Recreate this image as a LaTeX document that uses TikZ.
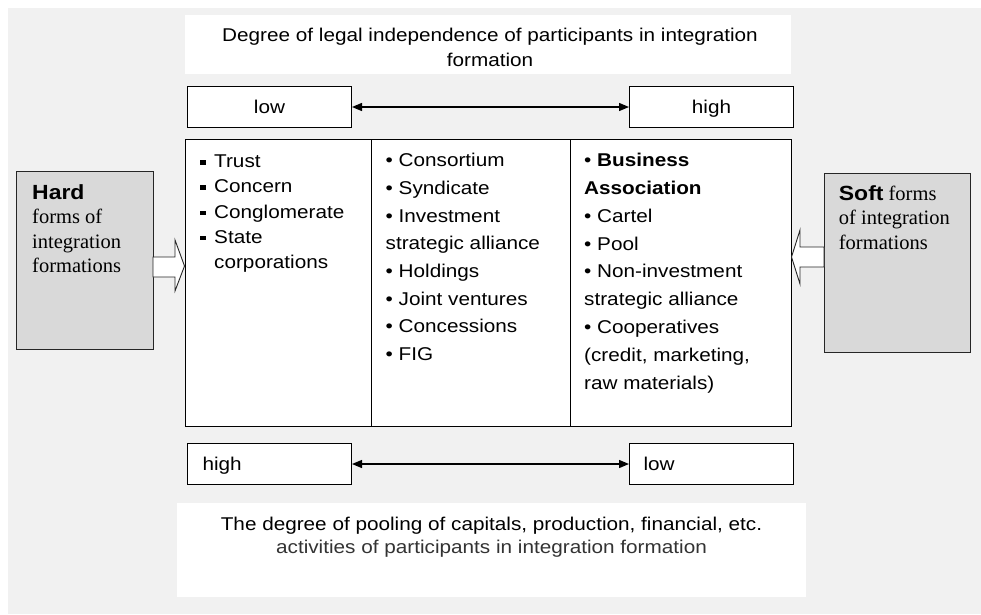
\documentclass[tikz,border=0pt]{standalone}
\usepackage{fontspec}
\setmainfont{Liberation Sans}[FakeStretch=1.12]
\newfontfamily\serifx{Liberation Serif}
\usetikzlibrary{arrows.meta}
\definecolor{bggray}{HTML}{F1F1F1}
\definecolor{boxgray}{HTML}{D9D9D9}
\newcommand\sqbul{\makebox[14pt][l]{\raisebox{3pt}{\rule{5.5pt}{4.5pt}}}}
\newcommand\fstrut{\rule{0pt}{15pt}}
\begin{document}
\begin{tikzpicture}[x=1pt,y=-1pt,
  titlebox/.style={fill=white, draw=none, inner sep=0pt, anchor=north west},
  lvlbox/.style={draw=black, line width=1pt, fill=white, inner sep=0pt, anchor=north west,
     minimum width=164pt, minimum height=41pt, text height=15pt, text depth=2pt,
     font=\fontsize{18.5}{22}\selectfont},
  lvlleft/.style={lvlbox, text width=134pt, inner xsep=15pt, align=left},
  formbox/.style={draw=black!85, line width=1.1pt, fill=boxgray, inner sep=0pt, anchor=north west},
  coltext/.style={anchor=north west, inner sep=0pt, align=left},
  ttltext/.style={anchor=north, inner sep=0pt, align=center},
  sidetext/.style={anchor=north west, inner sep=0pt, align=left, font=\serifx\fontsize{20.5}{24.5}\selectfont},
  dblarrow/.style={line width=1.3pt, {Triangle[length=10pt,width=8pt]}-{Triangle[length=10pt,width=8pt]}},
  blockarrow/.style={draw=black!85, line width=0.9pt, fill=white, line join=miter}
]
\useasboundingbox (0,0) rectangle (981,614);
\fill[white] (0,0) rectangle (981,614);
\fill[bggray] (8,8) rectangle (981,614);

% top title
\node[titlebox, minimum width=606pt, minimum height=59pt] (ttlbox) at (185,15) {};
\node[ttltext, font=\fontsize{18.5}{25}\selectfont] (ttl) at (490,26) {\fstrut Degree of legal independence of participants in integration\\formation};

% top scale
\node[lvlbox] (low1) at (187,86) {low};
\node[lvlbox] (high1) at (629,86) {high};
\draw[dblarrow] (low1.east) -- (high1.west);

% main table
\node[draw=black, line width=1.1pt, fill=white, inner sep=0pt, anchor=north west,
      minimum width=606pt, minimum height=287pt] (tbl) at (185,139) {};
\draw[line width=1pt] ([xshift=186pt]tbl.north west) -- ([xshift=186pt]tbl.south west);
\draw[line width=1pt] ([xshift=385pt]tbl.north west) -- ([xshift=385pt]tbl.south west);

\node[coltext, font=\fontsize{18.5}{25.3}\selectfont] (col1) at (200,152.3)
  {\fstrut\sqbul Trust\\\sqbul Concern\\\sqbul Conglomerate\\\sqbul State\\\hspace*{14pt}corporations};
\node[coltext, font=\fontsize{18.5}{27.7}\selectfont] (col2) at (385.5,151.5)
  {\fstrut• Consortium\\• Syndicate\\• Investment\\strategic alliance\\• Holdings\\• Joint ventures\\• Concessions\\• FIG};
\node[coltext, font=\fontsize{18.5}{27.8}\selectfont] (col3) at (584,151.5)
  {\fstrut• \textbf{Business}\\\textbf{Association}\\• Cartel\\• Pool\\• Non-investment\\strategic alliance\\• Cooperatives\\(credit, marketing,\\raw materials)};

% side boxes
\node[formbox, minimum width=137pt, minimum height=178pt] (hard) at (16,171) {};
\node[sidetext] (hardtext) at (32,184)
  {\fstrut{\rmfamily\bfseries Hard}\\forms of\\integration\\formations};
\node[formbox, minimum width=146pt, minimum height=179pt] (soft) at (824,173) {};
\node[sidetext] (softtext) at (838.7,185)
  {\fstrut{\rmfamily\bfseries Soft} forms\\of integration\\formations};

% block arrows
\draw[blockarrow] (153,257) -- (175,257) -- (175,240) -- (184.5,266) -- (175,291) -- (175,277) -- (153,277) -- cycle;
\draw[blockarrow] (824,247) -- (800,247) -- (800,230) -- (791.5,257) -- (800,284) -- (800,267) -- (824,267) -- cycle;

% bottom scale
\node[lvlleft] (high2) at (187,443) {high};
\node[lvlleft, inner xsep=14pt, text width=136pt] (low2) at (629,443) {low};
\draw[dblarrow] (high2.east) -- (low2.west);

% bottom title
\node[titlebox, minimum width=629pt, minimum height=94pt] (btlbox) at (177,503) {};
\node[ttltext, font=\fontsize{18.5}{23}\selectfont] (btl) at (491.5,515) {\fstrut The degree of pooling of capitals, production, financial, etc.\\\color{black!80}activities of participants in integration formation};
\end{tikzpicture}
\end{document}
